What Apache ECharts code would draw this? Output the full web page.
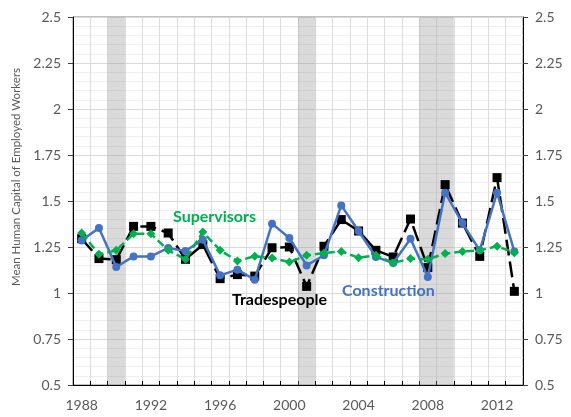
<!DOCTYPE html>
<html>
<head>
<meta charset="utf-8">
<script src="https://cdn.jsdelivr.net/npm/echarts@6/dist/echarts.min.js"></script>
<style>
  html, body { margin: 0; padding: 0; background: #fff; }
  #chart { width: 571px; height: 417px; }
</style>
</head>
<body>
<div id="chart"></div>
<script>
var years = ['1988','1989','1990','1991','1992','1993','1994','1995','1996','1997','1998','1999','2000',
             '2001','2002','2003','2004','2005','2006','2007','2008','2009','2010','2011','2012','2013'];
var recessionYears = ['1990', '2001', '2008', '2009'];

var tradespeople = [1.295,1.187,1.181,1.362,1.362,1.326,1.183,1.263,1.078,1.100,1.092,1.246,1.250,
                    1.036,1.254,1.399,1.337,1.232,1.196,1.402,1.138,1.589,1.380,1.199,1.627,1.009];
var construction = [1.286,1.353,1.141,1.199,1.199,1.245,1.228,1.290,1.096,1.127,1.072,1.377,1.299,
                    1.150,1.205,1.476,1.337,1.196,1.163,1.295,1.087,1.545,1.380,1.232,1.545,1.226];
var supervisors  = [1.326,1.210,1.232,1.322,1.322,1.232,1.183,1.332,1.232,1.174,1.200,1.190,1.168,
                    1.205,1.217,1.226,1.192,1.205,1.163,1.187,1.183,1.214,1.226,1.232,1.254,1.219];

var yMin = 0.5, yMax = 2.5, yStep = 0.25;
var yName = 'Mean Human Capital of Employed Workers';

var font = 'Lato, "Open Sans", sans-serif';
var grey = '#595959';

var chart = echarts.init(document.getElementById('chart'), null, {renderer: 'canvas'});

var bandData = years.map(function(y) {
    return recessionYears.indexOf(y) >= 0 ? yMax : '-';
});

function valueAxis(pos) {
    return {
        type: 'value',
        position: pos,
        min: yMin,
        max: yMax,
        interval: yStep,
        axisLine: {show: true, lineStyle: {color: '#000', width: 1}},
        axisTick: {show: true, inside: false, length: 5, lineStyle: {color: '#404040'}},
        axisLabel: {color: grey, fontFamily: font, fontSize: 14, margin: 12},
        splitLine: {show: pos === 'left', lineStyle: {color: '#d9d9d9', width: 1}},
        minorTick: {show: false, splitNumber: 5},
        minorSplitLine: {show: pos === 'left', lineStyle: {color: '#efefef', width: 1}}
    };
}

var option = {
    animation: false,
    backgroundColor: '#fff',
    grid: {
        left: 73, right: 48, top: 17, bottom: 32,
        show: true, borderColor: '#808080', borderWidth: 1
    },
    xAxis: {
        type: 'category',
        data: years,
        boundaryGap: true,
        axisLine: {show: true, lineStyle: {color: '#000', width: 1}},
        axisTick: {show: true, inside: true, length: 4, interval: 0, lineStyle: {color: '#000'}},
        axisLabel: {interval: 3, color: grey, fontFamily: font, fontSize: 14, margin: 13},
        splitLine: {show: true, interval: 0, lineStyle: {color: '#dcdcdc', width: 1}}
    },
    yAxis: [valueAxis('left'), valueAxis('right')],
    series: [
        {
            name: 'Recession',
            type: 'bar',
            data: bandData,
            barWidth: '100%',
            silent: true,
            z: 1,
            itemStyle: {color: 'rgba(150,150,150,0.35)'}
        },
        {
            name: 'Tradespeople',
            type: 'line',
            data: tradespeople,
            symbol: 'rect',
            symbolSize: 9,
            z: 3,
            lineStyle: {color: '#000', width: 2.5, type: [16, 6]},
            itemStyle: {color: '#000'}
        },
        {
            name: 'Construction',
            type: 'line',
            data: construction,
            symbol: 'circle',
            symbolSize: 8,
            z: 4,
            lineStyle: {color: '#4472C4', width: 2.5},
            itemStyle: {color: '#4472C4'}
        },
        {
            name: 'Supervisors',
            type: 'line',
            data: supervisors,
            symbol: 'diamond',
            symbolSize: 9,
            z: 5,
            lineStyle: {color: '#00B050', width: 2.5, type: [8, 4]},
            itemStyle: {color: '#00B050'}
        }
    ],
    graphic: [
        {
            type: 'text', x: 16, y: 177, rotation: Math.PI / 2, z: 100,
            style: {text: yName, fill: grey, font: '11.5px ' + font, textAlign: 'center', textVerticalAlign: 'middle'}
        },
        {
            type: 'text', x: 173, y: 217, z: 100,
            style: {text: 'Supervisors', fill: '#00B050', font: 'bold 16px ' + font, textVerticalAlign: 'middle'}
        },
        {
            type: 'text', x: 232, y: 300, z: 100,
            style: {text: 'Tradespeople', fill: '#000', font: 'bold 16px ' + font, textVerticalAlign: 'middle'}
        },
        {
            type: 'text', x: 342, y: 291, z: 100,
            style: {text: 'Construction', fill: '#4472C4', font: 'bold 16px ' + font, textVerticalAlign: 'middle'}
        }
    ]
};

chart.setOption(option);
</script>
</body>
</html>
